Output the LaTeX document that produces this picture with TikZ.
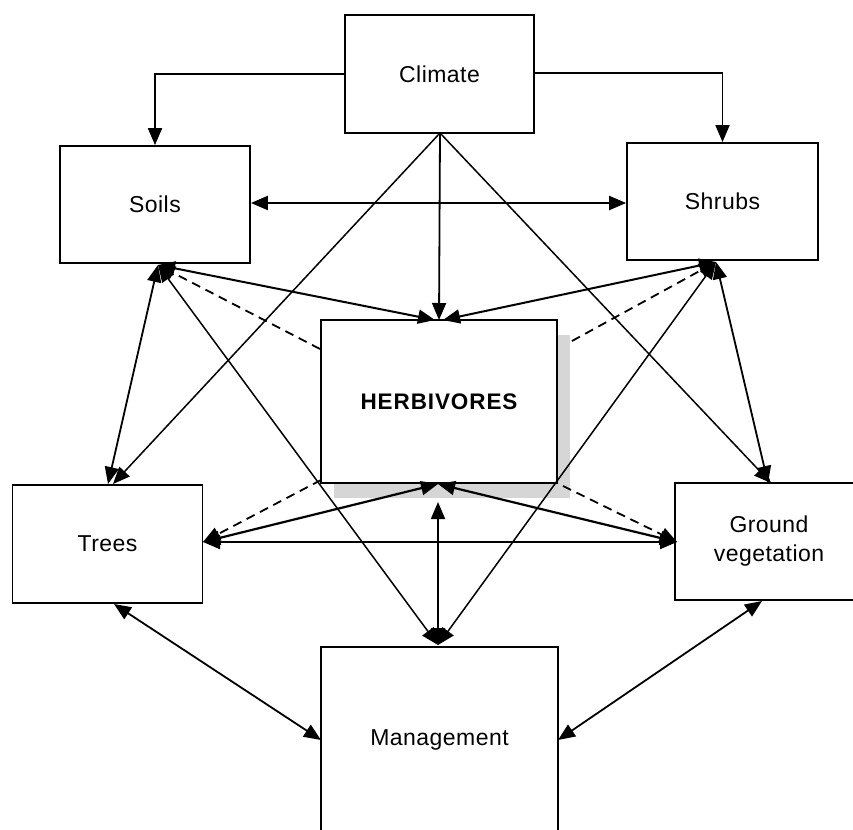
\documentclass[tikz,border=0pt]{standalone}
\usepackage{fontspec}
\setmainfont{Liberation Sans}
\usetikzlibrary{arrows.meta}
\begin{document}
\begin{tikzpicture}[x=1pt,y=-1pt,
  box/.style={draw, line width=1.8pt, fill=white, inner sep=0pt, align=center,
    font=\fontsize{23}{29}\selectfont\addfontfeature{LetterSpace=2}},
  tip/.tip={Triangle[length=17pt,width=14pt]},
  link/.style={line width=1.8pt, -tip},
  twoway/.style={line width=1.8pt, tip-tip},
  dashlink/.style={line width=1.8pt, dash pattern=on 9pt off 6pt, -tip}
]
\useasboundingbox (0,0) rectangle (853,829);

% drop shadow behind the central box
\fill[gray!32] (334,335) rectangle (570,498);

% boxes
\node[box, minimum width=189pt, minimum height=118pt] (climate) at (439.5,74) {Climate};
\node[box, minimum width=190pt, minimum height=117pt] (soils) at (155,204.5) {Soils};
\node[box, minimum width=191pt, minimum height=117pt] (shrubs) at (722.5,201.5) {Shrubs};
\node[box, minimum width=236pt, minimum height=163pt, font=\fontsize{22.5}{27}\selectfont\bfseries\addfontfeature{LetterSpace=4}] (herb) at (439,401.5) {HERBIVORES};
\node[box, minimum width=190pt, minimum height=118pt] (trees) at (107.5,544) {Trees};
\node[box, minimum width=188pt, minimum height=117pt] (ground) at (769,541.5) {Ground\\vegetation};
\node[box, minimum width=237pt, minimum height=186pt] (mgmt) at (439.5,740) {Management};

% meeting points of the connectors
\coordinate (climateB) at (440,133);
\coordinate (soilsB) at (158,265);
\coordinate (shrubsB) at (716,262);
\coordinate (herbT) at (439,320);
\coordinate (herbTL) at (435,320);
\coordinate (herbTR) at (443,320);
\coordinate (herbB) at (438,484);
\coordinate (herbBv) at (438,502);
\coordinate (herbL) at (320,349);
\coordinate (herbR) at (572,341);
\coordinate (herbBL) at (321,480);
\coordinate (herbBR) at (563,486);
\coordinate (treesT1) at (108,484);
\coordinate (treesT2) at (113,484);
\coordinate (treesR) at (203,542);
\coordinate (treesB) at (114,604);
\coordinate (groundT1) at (768,483);
\coordinate (groundT2) at (771,483);
\coordinate (groundL) at (677,542);
\coordinate (groundB) at (762,601);
\coordinate (mgmtT) at (438,645);
\coordinate (mgmtL) at (321,740);
\coordinate (mgmtR) at (558,740);

% climate to soils and shrubs
\draw[link] (climate.west |- 0,74) -| (soils.north);
\draw[link] (climate.east |- 0,73) -| (shrubs.north);

% climate to the centre and the lower boxes
\draw[link] (climateB) -- (herbT);
\draw[link, line width=1.5pt] (climateB) -- (treesT2);
\draw[link, line width=1.5pt] (climateB) -- (groundT2);

% soils and shrubs
\draw[twoway, line width=2.2pt] (soils.east |- 0,203) -- (shrubs.west |- 0,203);
\draw[twoway] (soilsB) -- (treesT1);
\draw[twoway] (shrubsB) -- (groundT1);
\draw[twoway, line width=2pt] (soilsB) -- (herbTL);
\draw[twoway, line width=2pt] (shrubsB) -- (herbTR);
\draw[twoway, line width=1.5pt] (soilsB) -- (mgmtT);
\draw[twoway, line width=1.5pt] (shrubsB) -- (mgmtT);
\draw[dashlink] (herbL) -- (soilsB);
\draw[dashlink] (herbR) -- (shrubsB);

% herbivores to the lower boxes
\draw[twoway, line width=2.2pt] (treesR) -- (herbB);
\draw[twoway, line width=2.2pt] (groundL) -- (herbB);
\draw[dashlink] (herbBL) -- (treesR);
\draw[dashlink] (herbBR) -- (groundL);
\draw[twoway] (herbBv) -- (mgmtT);

% trees, ground vegetation and management
\draw[twoway, line width=2.2pt] (treesR) -- (groundL);
\draw[twoway] (treesB) -- (mgmtL);
\draw[twoway] (groundB) -- (mgmtR);
\end{tikzpicture}
\end{document}
